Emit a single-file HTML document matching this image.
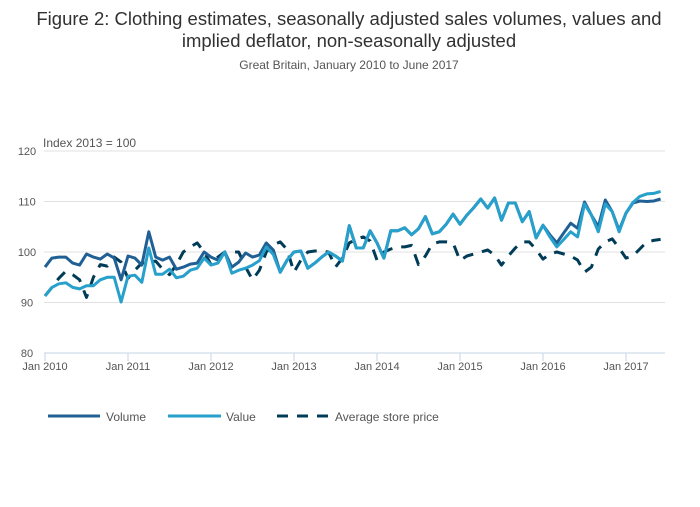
<!DOCTYPE html>
<html><head><meta charset="utf-8"><style>
body{margin:0;background:#fff;font-family:"Liberation Sans",sans-serif;}
svg text{font-family:"Liberation Sans",sans-serif;}
</style></head><body>
<svg id="chart" width="700" height="502" viewBox="0 0 700 502" xmlns="http://www.w3.org/2000/svg">
<text x="349" y="25" text-anchor="middle" font-size="18.5" fill="#323132">Figure 2: Clothing estimates, seasonally adjusted sales volumes, values and</text>
<text x="349" y="47" text-anchor="middle" font-size="18.5" fill="#323132">implied deflator, non-seasonally adjusted</text>
<text x="349" y="69" text-anchor="middle" font-size="12" fill="#555">Great Britain, January 2010 to June 2017</text>
<text x="43" y="147" font-size="12" fill="#555">Index 2013 = 100</text>
<g id="grid"></g><g id="xaxis"></g><g id="series"></g>
<g>
<line x1="48" y1="416" x2="100" y2="416" stroke="#206095" stroke-width="3"/>
<text x="106" y="421" font-size="12" fill="#555">Volume</text>
<line x1="168" y1="416" x2="221" y2="416" stroke="#27a0cc" stroke-width="3"/>
<text x="226" y="421" font-size="12" fill="#555">Value</text>
<line x1="277" y1="416" x2="330" y2="416" stroke="#003c57" stroke-width="3" stroke-dasharray="11,9"/>
<text x="335" y="421" font-size="12" fill="#555">Average store price</text>
</g>
</svg>
<script>
const yTicks=[80,90,100,110,120];
const xTickLabels=["Jan 2010","Jan 2011","Jan 2012","Jan 2013","Jan 2014","Jan 2015","Jan 2016","Jan 2017"];
const volume=[97,98.8,99,99,97.8,97.4,99.6,99,98.6,99.6,98.8,94.5,99.2,98.8,97.4,104,99,98.4,99,96.6,97,97.6,97.8,100,99,98.4,100,97,
98,99.8,99,99.4,101.8,100.4,96,98.4,100,100.2,96.8,97.8,99,100,99.2,98.2,105.2,100.8,100.8,104.2,101.8,98.8,104.2,104.2,104.8,103.4,104.6,107,103.6,
104,105.5,107.5,105.5,107.3,108.8,110.5,108.7,110.7,106.3,109.7,109.7,106,108,102.8,105.3,103.4,101.8,103.8,105.7,104.7,109.9,107.3,105,110.3,108,104.3,107.7,109.7,110.1,110,110.1,110.5];
const value=[91.3,93,93.7,93.9,93,92.7,93.3,93.3,94.5,95,95,90.1,95.2,95.4,94,100.8,95.6,95.6,96.6,94.9,95.2,96.4,96.8,98.8,97.4,97.8,100,95.8,96.4,96.8,97.4,98.3,
101,99.5,96,98.4,100,100.2,96.8,97.8,99,100,99.2,98.2,105.2,100.8,100.8,104.2,101.8,98.8,104.2,104.2,104.8,103.4,104.6,107,103.6,
104,105.5,107.5,105.5,107.3,108.8,110.5,108.7,110.7,106.3,109.7,109.7,106,108,102.8,105.3,103,101,102.5,104,103,109.5,107.3,104,109.5,108,104,107.7,109.8,111,111.5,111.6,112];
const price=[91.3,93,94.8,96.2,95.5,94.5,91,95,97.5,97.2,99,98,94.8,96.4,97.8,98,98.2,96.6,95.5,97.5,100,101,101.8,100,97.5,99,100,100,
100,97,94.5,96.4,100,101.4,102,100.5,96,98.4,100,100.2,100.2,100,97,98.8,101.8,102.5,103,102.2,98.4,100,100.6,101,101,101.3,97.5,99.2,101.6,
102,102,101.8,98.3,99.2,99.6,100,100.4,99.4,97.4,99.2,100.8,102,102,100.5,98.6,99.6,100,99.6,99.2,98.4,96,97,100.6,102,102.6,100.8,98.8,99.2,100.6,102,102.3,102.5];
const NS="http://www.w3.org/2000/svg";
const x0=45,pxMonth=83/12,yTop=151,yBot=353;
function xs(i){return x0+i*pxMonth;}
function ys(v){return yBot-(v-80)/(40)*(yBot-yTop);}
function mk(tag,attrs,parent){const e=document.createElementNS(NS,tag);for(const k in attrs)e.setAttribute(k,attrs[k]);parent.appendChild(e);return e;}
const grid=document.getElementById('grid');
yTicks.forEach(t=>{
  if(t>80){const l=mk('line',{x1:44,x2:665,y1:ys(t),y2:ys(t),stroke:'#e1e1e1','stroke-width':1},grid);
  
  }
  const tx=mk('text',{x:27,y:ys(t)+4,'text-anchor':'middle','font-size':11,fill:'#555'},grid);
  tx.textContent=t;
  
  
});
const xa=document.getElementById('xaxis');
const ax=mk('line',{x1:44,x2:665,y1:yBot,y2:yBot,stroke:'#c6d3e6','stroke-width':1},xa);


xTickLabels.forEach((lab,k)=>{
  const x=xs(k*12);
  const tk=mk('line',{x1:x,x2:x,y1:yBot,y2:yBot+8,stroke:'#c6d3e6','stroke-width':1},xa);
  
  
  const tx=mk('text',{x:x,y:yBot+17,'text-anchor':'middle','font-size':11,fill:'#555'},xa);
  tx.textContent=lab;
  
  
});
const sg=document.getElementById('series');
function line(data,color,dash,name){
  const d=data.map((v,i)=>(i?'L':'M')+xs(i).toFixed(1)+','+ys(v).toFixed(1)).join('');
  const p=mk('path',{d:d,fill:'none',stroke:color,'stroke-width':3,'stroke-linejoin':'round'},sg);
  if(dash)p.setAttribute('stroke-dasharray',dash);
  
  
}
line(price,'#003c57','11,9','series-average-store-price');
line(volume,'#206095',null,'series-volume');
line(value,'#27a0cc',null,'series-value');
</script>
</body></html>
